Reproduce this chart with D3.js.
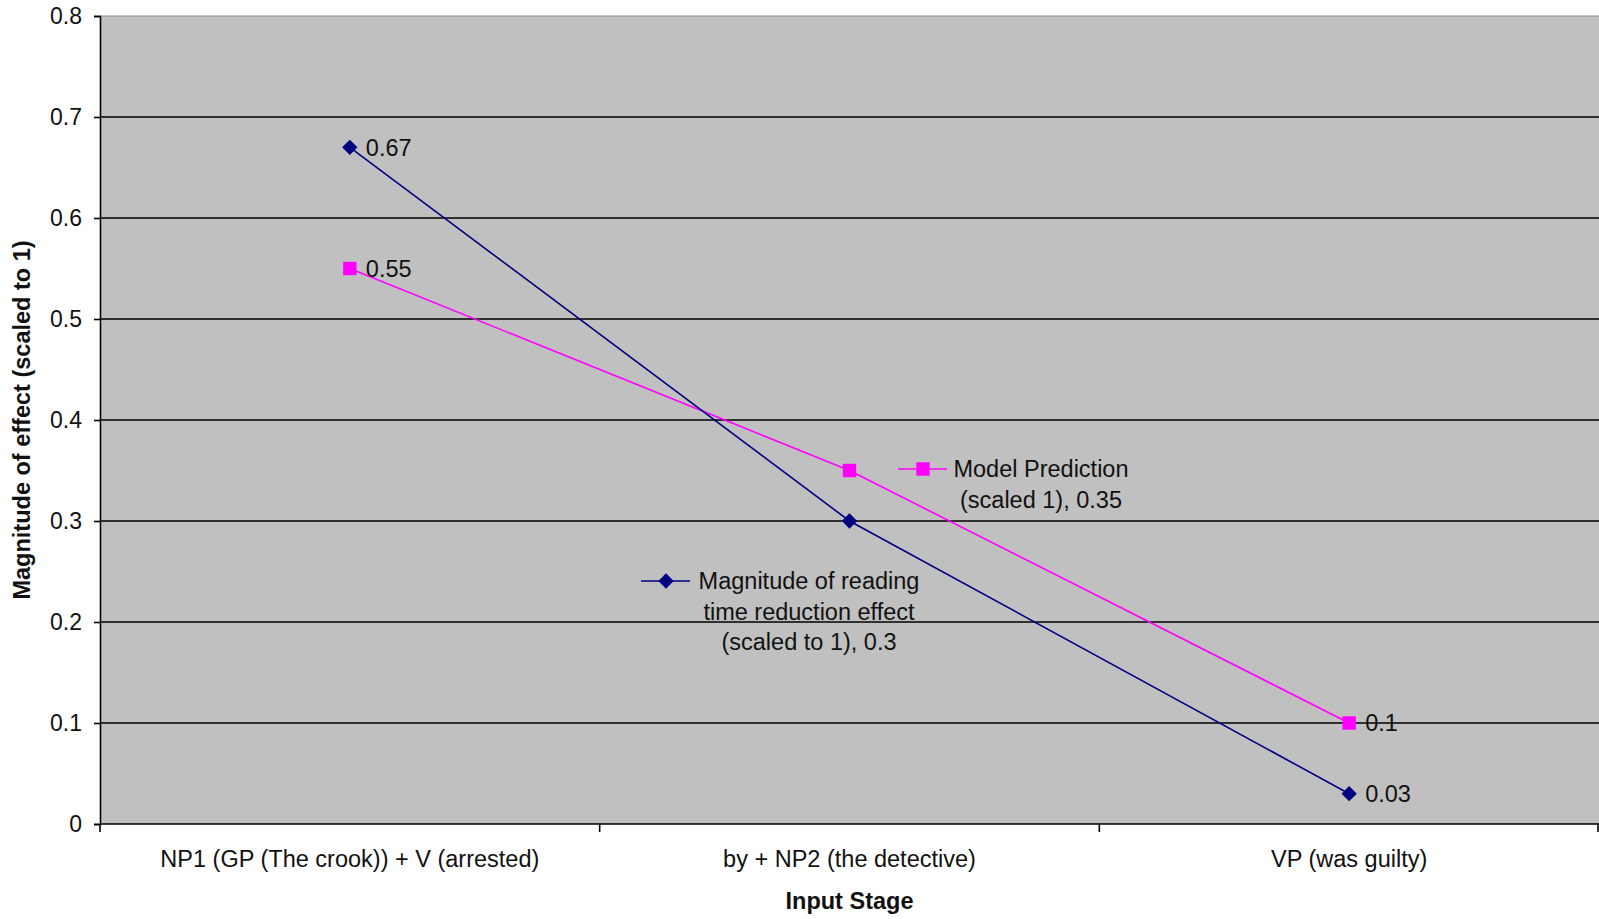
<!DOCTYPE html>
<html>
<head>
<meta charset="utf-8">
<script src="https://cdn.jsdelivr.net/npm/d3@7"></script>
<style>
  html, body { margin: 0; padding: 0; background: #fff; }
  svg { display: block; font-family: "Liberation Sans", Arial, sans-serif; }
</style>
</head>
<body>
<svg id="chart" width="1599" height="919"></svg>
<script>
// categories and series
var stages = ['NP1 (GP (The crook)) + V (arrested)', 'by + NP2 (the detective)', 'VP (was guilty)'];
var readingEffect = [0.67, 0.3, 0.03];
var modelPrediction = [0.55, 0.35, 0.1];
var yTicks = [0, 0.1, 0.2, 0.3, 0.4, 0.5, 0.6, 0.7, 0.8];
var yTickLabels = ['0', '0.1', '0.2', '0.3', '0.4', '0.5', '0.6', '0.7', '0.8'];
var readingLegend = ['Magnitude of reading', 'time reduction effect', '(scaled to 1), 0.3'];
var modelLegend = ['Model Prediction', '(scaled 1), 0.35'];

(function () {
  var svg = d3.select('#chart');
  var FS = 23.5;
  var M = { left: 100, right: 1599, top: 16, bottom: 824 };
  var x = d3.scaleBand().domain(stages).range([M.left, M.right]).padding(0);
  var y = d3.scaleLinear().domain([0, 0.8]).range([M.bottom, M.top]);
  var cx = function (i) { return x(stages[i]) + x.bandwidth() / 2; };

  // plot area
  svg.append('rect').attr('x', M.left).attr('y', M.top).attr('width', M.right - M.left).attr('height', M.bottom - M.top)
    .attr('fill', '#c0c0c0');
  // gridlines
  svg.append('g').selectAll('line').data(yTicks.filter(function (d) { return d > 0; })).join('line')
    .attr('x1', M.left).attr('x2', M.right).attr('y1', function (d) { return y(d); }).attr('y2', function (d) { return y(d); })
    .attr('stroke', function (d) { return d === 0.8 ? '#8a8a8a' : '#000'; })
    .attr('stroke-width', function (d) { return d === 0.8 ? 1 : 1.6; });

  // y axis
  var ya = svg.append('g').attr('transform', 'translate(' + M.left + ',0)')
    .call(d3.axisLeft(y).tickValues(yTicks).tickSize(6).tickPadding(12).tickFormat(function (d, i) { return yTickLabels[i]; }));
  ya.select('.domain').attr('stroke', '#000').attr('stroke-width', 1.6);
  ya.selectAll('.tick line').attr('stroke', '#000').attr('stroke-width', 1.6);
  ya.selectAll('text').attr('font-size', 23).attr('fill', '#111').attr('font-family', '"Liberation Sans", Arial, sans-serif');

  // x axis: ticks on category boundaries
  var xa = svg.append('g').attr('transform', 'translate(0,' + M.bottom + ')');
  xa.append('line').attr('x1', M.left).attr('x2', M.right).attr('stroke', '#000').attr('stroke-width', 1.6);
  var bounds = stages.map(function (s) { return x(s); }).concat([M.right - 1]);
  xa.selectAll('line.tk').data(bounds).join('line').attr('class', 'tk')
    .attr('x1', function (d) { return d; }).attr('x2', function (d) { return d; }).attr('y1', 0).attr('y2', 8)
    .attr('stroke', '#000').attr('stroke-width', 1.6);
  xa.selectAll('text').data(stages).join('text')
    .attr('x', function (d, i) { return cx(i); }).attr('y', 43).attr('text-anchor', 'middle')
    .attr('font-size', FS).attr('fill', '#111').text(function (d) { return d; });

  // axis titles
  svg.append('text').attr('x', cx(1)).attr('y', 909).attr('text-anchor', 'middle')
    .attr('font-size', FS).attr('font-weight', 'bold').attr('fill', '#111').text('Input Stage');
  svg.append('text').attr('transform', 'translate(30,' + ((M.top + M.bottom) / 2) + ') rotate(-90)').attr('text-anchor', 'middle')
    .attr('font-size', FS).attr('font-weight', 'bold').attr('fill', '#111').text('Magnitude of effect (scaled to 1)');

  var line = d3.line().x(function (d, i) { return cx(i); }).y(function (d) { return y(d); });
  var diamond = d3.symbol().type(d3.symbolDiamond2 || d3.symbolDiamond).size(150);
  var square = d3.symbol().type(d3.symbolSquare).size(180);

  // series lines
  svg.append('path').datum(modelPrediction).attr('d', line).attr('fill', 'none').attr('stroke', '#ff00ff').attr('stroke-width', 1.6);
  svg.append('path').datum(readingEffect).attr('d', line).attr('fill', 'none').attr('stroke', '#000080').attr('stroke-width', 1.6);

  svg.append('g').selectAll('path').data(modelPrediction).join('path')
    .attr('transform', function (d, i) { return 'translate(' + cx(i) + ',' + y(d) + ')'; })
    .attr('d', square).attr('fill', '#ff00ff');
  svg.append('g').selectAll('path').data(readingEffect).join('path')
    .attr('transform', function (d, i) { return 'translate(' + cx(i) + ',' + y(d) + ')'; })
    .attr('d', diamond).attr('fill', '#000080');

  // data labels at first and last points
  function label(vals, idx) {
    idx.forEach(function (i) {
      svg.append('text').attr('x', cx(i) + 16).attr('y', y(vals[i])).attr('dy', '0.36em')
        .attr('font-size', FS).attr('fill', '#111').text(String(vals[i]));
    });
  }
  label(readingEffect, [0, 2]);
  label(modelPrediction, [0, 2]);

  // middle point labels with legend key
  function keyLabel(lines, py, keyX, color, sym, textX) {
    var g = svg.append('g');
    g.append('line').attr('x1', keyX - 25).attr('x2', keyX + 24).attr('y1', py).attr('y2', py).attr('stroke', color).attr('stroke-width', 1.6);
    g.append('path').attr('transform', 'translate(' + keyX + ',' + py + ')').attr('d', sym).attr('fill', color);
    g.selectAll('text').data(lines).join('text')
      .attr('x', textX).attr('y', function (d, i) { return py + i * 30.5; }).attr('dy', '0.36em')
      .attr('text-anchor', 'middle').attr('font-size', FS).attr('fill', '#111').text(function (d) { return d; });
  }
  keyLabel(modelLegend, 469, 923, '#ff00ff', square, 1041);
  keyLabel(readingLegend, 581, 666, '#000080', diamond, 809);
})();
</script>
</body>
</html>
